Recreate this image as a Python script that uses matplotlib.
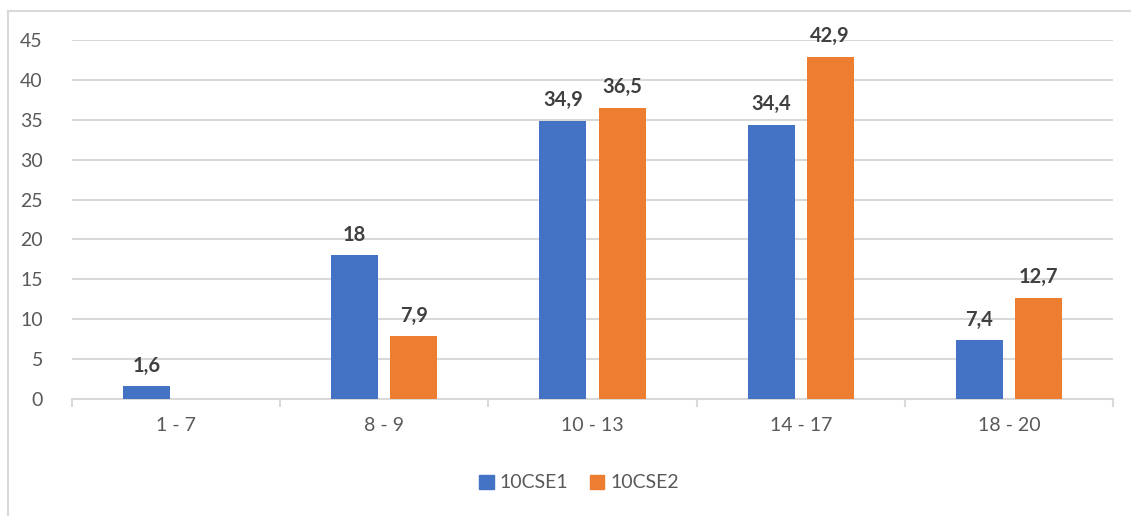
import matplotlib.pyplot as plt
import numpy as np
from matplotlib.lines import Line2D

categories = ["1 - 7", "8 - 9", "10 - 13", "14 - 17", "18 - 20"]
series1_name = "10CSE1"
series2_name = "10CSE2"
series1 = [1.6, 18, 34.9, 34.4, 7.4]
series2 = [None, 7.9, 36.5, 42.9, 12.7]
yticks = [0, 5, 10, 15, 20, 25, 30, 35, 40, 45]

plt.rcParams['font.family'] = ['Lato', 'DejaVu Sans']

W, H = 1131, 516
fig = plt.figure(figsize=(W / 100, H / 100), dpi=100)
ax = fig.add_axes([72 / W, 1 - 399 / H, (1113 - 72) / W, (399 - 40) / H])

c1 = "#4472C4"
c2 = "#ED7D31"
x = np.arange(len(categories))
bw = 0.226
off = 0.142
for i in range(len(categories)):
    v1 = series1[i]
    v2 = series2[i]
    if v1 is not None:
        ax.bar(x[i] - off, v1, bw, color=c1, zorder=3)
        ax.text(x[i] - off, v1 + 1.3, f"{v1:g}".replace(".", ","), ha="center", va="bottom",
                fontsize=14.5, fontweight="bold", color="#404040")
    if v2 is not None:
        ax.bar(x[i] + off, v2, bw, color=c2, zorder=3)
        ax.text(x[i] + off, v2 + 1.3, f"{v2:g}".replace(".", ","), ha="center", va="bottom",
                fontsize=14.5, fontweight="bold", color="#404040")

ax.set_xlim(-0.5, len(categories) - 0.5)
ax.set_ylim(0, 45)
ax.set_yticks(yticks)
ax.set_yticklabels([str(t) for t in yticks], fontsize=14, color="#595959")
ax.yaxis.grid(True, color="#D9D9D9", linewidth=1.5, zorder=0)
ax.set_axisbelow(True)
ax.tick_params(axis="y", length=0, pad=21)
ax.set_xticks(x)
ax.set_xticklabels(categories, fontsize=14, color="#595959")
ax.tick_params(axis="x", length=0, pad=13)
ax.set_xticks(np.arange(len(categories) + 1) - 0.5, minor=True)
ax.tick_params(axis="x", which="minor", length=6, color="#D9D9D9", width=1.5)
for s in ["top", "right", "left"]:
    ax.spines[s].set_visible(False)
ax.spines["bottom"].set_color("#D9D9D9")
ax.spines["bottom"].set_linewidth(1.5)

# frame lines of the chart area
fig.add_artist(Line2D([7.5 / W, 7.5 / W], [0, 1 - 11 / H], color="#D9D9D9", linewidth=1.5))
fig.add_artist(Line2D([7.5 / W, 1], [1 - 11 / H, 1 - 11 / H], color="#D9D9D9", linewidth=1.5))

handles = [plt.Rectangle((0, 0), 1, 1, color=c1), plt.Rectangle((0, 0), 1, 1, color=c2)]
fig.legend(handles, [series1_name, series2_name], loc="center", bbox_to_anchor=(579 / W, 1 - 483 / H),
           ncol=2, frameon=False, fontsize=14, handlelength=0.75, handleheight=0.75,
           handletextpad=0.3, columnspacing=1.1, labelcolor="#595959")

fig.savefig("out.png", dpi=100)
